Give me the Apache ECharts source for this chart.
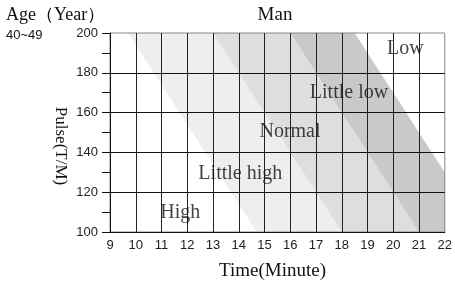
<!DOCTYPE html>
<html>
  <head>
  <meta charset="utf-8">
    <script type="text/javascript" src="https://cdn.jsdelivr.net/npm/echarts@6/dist/echarts.min.js"></script>
  </head>
 <body style="margin:0">
     <div id="main" style="width:455px;height:288px;"></div>
     <script type="text/javascript">
    // axes
    var xTicks = [9, 10, 11, 12, 13, 14, 15, 16, 17, 18, 19, 20, 21, 22];
    var yTicks = [100, 120, 140, 160, 180, 200];
    // band edges: minute where each edge meets pulse 200, and how far it slides by pulse 100
    var edgeTop = [9.7, 13, 16, 18.5];
    var edgeShift = 5;
    var bandColors = ['#eeeeee', '#dedede', '#c9c9c9'];
    // zone labels
    var zoneNames = ['High', 'Little high', 'Normal', 'Little low', 'Low'];
    var zoneX = [11.73, 14.06, 15.99, 18.28, 20.47];
    var zoneY = [109.6, 129.5, 150.2, 169.8, 192];

    var bands = [];
    for (var i = 0; i < edgeTop.length - 1; i++) {
        bands.push([edgeTop[i], edgeTop[i + 1], i]);
    }
    var yMin = yTicks[0], yMax = yTicks[yTicks.length - 1];

    var myChart = echarts.init(document.getElementById('main'));
    var serif = 'Liberation Serif, Times New Roman, serif';
    var sans = 'Liberation Sans, Arial, sans-serif';
    var mid = { verticalAlign: 'middle', textVerticalAlign: 'middle', align: 'center', textAlign: 'center' };
    function txt(x, y, s, font, rot, left) {
        var st = Object.assign({ text: s, font: font, fill: '#111' }, mid);
        if (left) { st.align = 'left'; st.textAlign = 'left'; }
        return { type: 'text', x: x, y: y, rotation: rot || 0, style: st };
    }
    var option = {
        animation: false,
        grid: {
            left: 110, right: 9, top: 33, bottom: 56,
            show: true, borderColor: '#888', borderWidth: 1
        },
        graphic: [
            txt(6, 15, 'Age（Year）', '18px ' + serif, 0, true),
            txt(6, 35, '40~49', '13px ' + sans, 0, true),
            txt(275, 15, 'Man', '19px ' + serif),
            txt(60, 146, 'Pulse(T/M)', '17px ' + serif, -Math.PI / 2),
            txt(272.5, 271, 'Time(Minute)', '19px ' + serif)
        ],
        xAxis: {
            type: 'value',
            min: xTicks[0], max: xTicks[xTicks.length - 1], interval: 1,
            axisLine: { lineStyle: { color: '#111', width: 1 } },
            axisTick: { show: false },
            axisLabel: { fontFamily: sans, fontSize: 13, color: '#222', margin: 7 },
            splitLine: { show: true, showMaxLine: false, lineStyle: { color: '#222', width: 1 } }
        },
        yAxis: {
            type: 'value',
            min: yMin, max: yMax, interval: 20,
            axisLine: { show: true, lineStyle: { color: '#111', width: 1 } },
            axisTick: { show: true, length: 8, lineStyle: { color: '#111' } },
            minorTick: { show: true, splitNumber: 2, length: 8, lineStyle: { color: '#111' } },
            axisLabel: { fontFamily: sans, fontSize: 13, color: '#222', margin: 12 },
            splitLine: { show: true, showMaxLine: false, lineStyle: { color: '#111', width: 1 } }
        },
        series: [
            {
                type: 'custom',
                z: -1,
                clip: true,
                silent: true,
                data: bands,
                renderItem: function (params, api) {
                    var l = api.value(0), r = api.value(1);
                    var pts = [
                        api.coord([l, yMax]),
                        api.coord([r, yMax]),
                        api.coord([r + edgeShift, yMin]),
                        api.coord([l + edgeShift, yMin])
                    ];
                    return {
                        type: 'polygon',
                        shape: { points: pts },
                        style: { fill: bandColors[api.value(2)], stroke: null }
                    };
                }
            },
            {
                type: 'scatter',
                symbolSize: 0,
                silent: true,
                data: zoneNames.map(function (n, k) { return { name: n, value: [zoneX[k], zoneY[k]] }; }),
                label: {
                    show: true, position: 'inside',
                    formatter: '{b}',
                    fontFamily: serif, fontSize: 20, color: '#111'
                }
            }
        ]
    };
    myChart.setOption(option);
    </script>
  </body>
</html>
